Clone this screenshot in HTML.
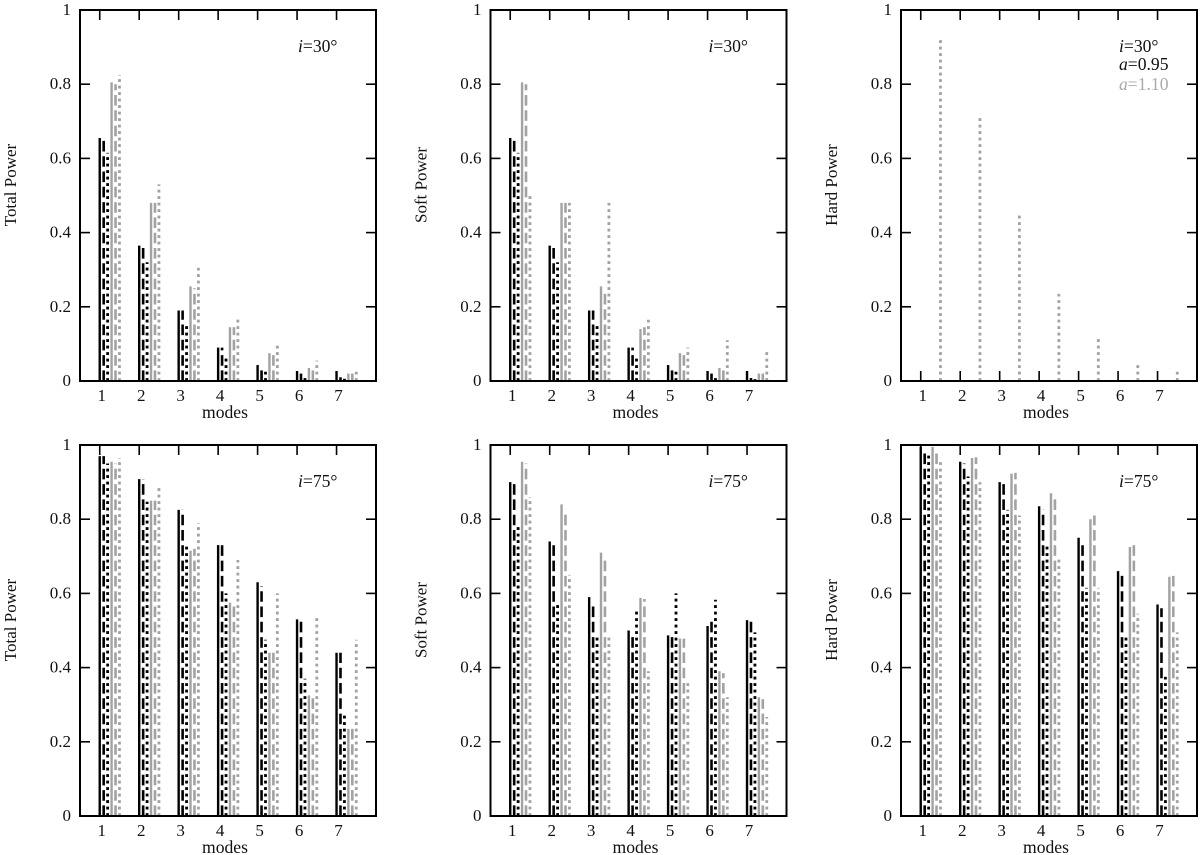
<!DOCTYPE html>
<html>
<head>
<meta charset="utf-8">
<style>
html,body{margin:0;padding:0;background:#fff}
svg{display:block}
text{font-family:"Liberation Serif",serif;font-size:17px;fill:#111}
</style>
</head>
<body>
<svg id="chart" xmlns="http://www.w3.org/2000/svg" width="1200" height="855" viewBox="0 0 1200 855"></svg>
<script>
const modes = [1, 2, 3, 4, 5, 6, 7];
const yTicks = [0, 0.2, 0.4, 0.6, 0.8, 1];
const yTickLabels = ['0', '0.2', '0.4', '0.6', '0.8', '1'];

const total30 = {
  a095Solid: [0.655, 0.365, 0.19, 0.09, 0.043, 0.027, 0.027],
  a095Dashed: [0.655, 0.365, 0.19, 0.09, 0.03, 0.02, 0.01],
  a095Dotted: [0.615, 0.32, 0.15, 0.065, 0.025, 0.013, 0.006],
  a110Solid: [0.805, 0.48, 0.255, 0.145, 0.075, 0.035, 0.02],
  a110Dashed: [0.8, 0.48, 0.25, 0.145, 0.07, 0.03, 0.02],
  a110Dotted: [0.825, 0.53, 0.305, 0.175, 0.095, 0.055, 0.025]
};
const soft30 = {
  a095Solid: [0.655, 0.365, 0.19, 0.09, 0.043, 0.027, 0.027],
  a095Dashed: [0.655, 0.36, 0.19, 0.09, 0.035, 0.02, 0.008],
  a095Dotted: [0.615, 0.32, 0.155, 0.065, 0.025, 0.012, 0.005],
  a110Solid: [0.805, 0.48, 0.255, 0.14, 0.075, 0.035, 0.02],
  a110Dashed: [0.8, 0.48, 0.245, 0.145, 0.07, 0.03, 0.02],
  a110Dotted: [0.5, 0.48, 0.48, 0.165, 0.09, 0.11, 0.08]
};
const hard30 = {
  a095Solid: [0, 0, 0, 0, 0, 0, 0],
  a095Dashed: [0, 0, 0, 0, 0, 0, 0],
  a095Dotted: [0, 0, 0, 0, 0, 0, 0],
  a110Solid: [0, 0, 0, 0, 0, 0, 0],
  a110Dashed: [0, 0, 0, 0, 0, 0, 0],
  a110Dotted: [0.92, 0.71, 0.455, 0.235, 0.115, 0.045, 0.025]
};
const total75 = {
  a095Solid: [0.97, 0.908, 0.825, 0.73, 0.63, 0.53, 0.44],
  a095Dashed: [0.97, 0.908, 0.825, 0.73, 0.62, 0.53, 0.44],
  a095Dotted: [0.95, 0.847, 0.735, 0.6, 0.475, 0.37, 0.28],
  a110Solid: [0.955, 0.85, 0.715, 0.575, 0.44, 0.325, 0.235],
  a110Dashed: [0.95, 0.85, 0.72, 0.575, 0.44, 0.325, 0.235],
  a110Dotted: [0.965, 0.892, 0.79, 0.69, 0.6, 0.535, 0.475]
};
const soft75 = {
  a095Solid: [0.9, 0.74, 0.59, 0.5, 0.487, 0.512, 0.528],
  a095Dashed: [0.895, 0.735, 0.575, 0.487, 0.49, 0.525, 0.53],
  a095Dotted: [0.785, 0.575, 0.49, 0.558, 0.6, 0.583, 0.495],
  a110Solid: [0.955, 0.84, 0.71, 0.588, 0.478, 0.39, 0.32],
  a110Dashed: [0.95, 0.825, 0.7, 0.585, 0.478, 0.385, 0.315],
  a110Dotted: [0.86, 0.65, 0.49, 0.39, 0.358, 0.32, 0.267]
};
const hard75 = {
  a095Solid: [0.995, 0.955, 0.9, 0.835, 0.75, 0.66, 0.57],
  a095Dashed: [0.985, 0.95, 0.9, 0.825, 0.74, 0.655, 0.56],
  a095Dotted: [0.975, 0.915, 0.825, 0.73, 0.615, 0.49, 0.375],
  a110Solid: [0.995, 0.965, 0.923, 0.87, 0.8, 0.725, 0.645],
  a110Dashed: [0.99, 0.967, 0.925, 0.865, 0.81, 0.735, 0.655],
  a110Dotted: [0.96, 0.9, 0.81, 0.7, 0.615, 0.545, 0.495]
};

const svg = document.getElementById('chart');
const NS = 'http://www.w3.org/2000/svg';
const BLACK = '#000';
const GRAY = '#a2a2a2';
const xMin = 0.5, xMax = 8, panelW = 296, panelH = 371;

function mk(tag, attrs, parent) {
  const el = document.createElementNS(NS, tag);
  for (const k in attrs) el.setAttribute(k, attrs[k]);
  parent.appendChild(el);
  return el;
}

const styles = [
  { key: 'a095Solid', off: 0.0, color: BLACK, dash: null, w: 2.4 },
  { key: 'a095Dashed', off: 0.1, color: BLACK, dash: '10.6 4.7', w: 2.6 },
  { key: 'a095Dotted', off: 0.2, color: BLACK, dash: '2.9 3.6', w: 2.8 },
  { key: 'a110Solid', off: 0.3, color: GRAY, dash: null, w: 2.4 },
  { key: 'a110Dashed', off: 0.4, color: GRAY, dash: '10.6 4.7', w: 2.6 },
  { key: 'a110Dotted', off: 0.5, color: GRAY, dash: '2.9 3.6', w: 2.8 }
];

function drawPanel(left, top, series, yTitle, note, isLegend) {
  const g = mk('g', {}, svg);
  
  
  const bottom = top + panelH, right = left + panelW;
  const sx = v => left + (v - xMin) / (xMax - xMin) * panelW;
  const sy = v => bottom - v * panelH;

  styles.forEach(st => {
    const vals = series[st.key];
    modes.forEach((m, i) => {
      if (vals[i] <= 0) return;
      const x = sx(m + st.off);
      const ln = mk('line', { x1: x, x2: x, y1: sy(0), y2: sy(vals[i]), stroke: st.color, 'stroke-width': st.w }, g);
      if (st.dash) ln.setAttribute('stroke-dasharray', st.dash);
      
      
    });
  });

  yTicks.forEach((t, i) => {
    const y = sy(t);
    if (t > 0 && t < 1) {
      const tl = mk('line', { x1: left, x2: left + 10, y1: y, y2: y, stroke: '#000', 'stroke-width': 1.6 }, g);
      
      
      const tr = mk('line', { x1: right, x2: right - 10, y1: y, y2: y, stroke: '#000', 'stroke-width': 1.6 }, g);
      
      
    }
    const lab = mk('text', { x: left - 9, y: y + 5, 'text-anchor': 'end' }, g);
    lab.textContent = yTickLabels[i];
    
    
  });

  modes.forEach(m => {
    const x = sx(m);
    const tb = mk('line', { x1: x, x2: x, y1: bottom, y2: bottom - 10, stroke: '#000', 'stroke-width': 1.6 }, g);
    
    
    const tt = mk('line', { x1: x, x2: x, y1: top, y2: top + 10, stroke: '#000', 'stroke-width': 1.6 }, g);
    
    
    const lab = mk('text', { x: x + 2, y: bottom + 20, 'text-anchor': 'middle' }, g);
    lab.textContent = m;
    
    
  });

  const frame = mk('rect', { x: left, y: top, width: panelW, height: panelH, fill: 'none', stroke: '#000', 'stroke-width': 2 }, g);
  
  

  const xt = mk('text', { x: left + 145, y: bottom + 37, 'text-anchor': 'middle', style: 'font-size:17.6px' }, g);
  xt.textContent = 'modes';
  
  

  const cy = top + 175, cx = left - 64;
  const yt = mk('text', { x: cx, y: cy, 'text-anchor': 'middle', transform: 'rotate(-90 ' + cx + ' ' + cy + ')' }, g);
  yt.textContent = yTitle;
  
  

  const nx = left + 218;
  const n = mk('text', { x: nx, y: top + 42, style: 'font-size:17.6px' }, g);
  const ni = mk('tspan', { 'font-style': 'italic' }, n);
  ni.textContent = 'i';
  const nr = mk('tspan', {}, n);
  nr.textContent = '=' + note + '°';
  
  

  if (isLegend) {
    const l1 = mk('text', { x: nx, y: top + 60, style: 'font-size:17.6px' }, g);
    const l1i = mk('tspan', { 'font-style': 'italic' }, l1);
    l1i.textContent = 'a';
    const l1r = mk('tspan', {}, l1);
    l1r.textContent = '=0.95';
    
    

    const l2 = mk('text', { x: nx, y: top + 80, style: 'fill:#aaaaaa;font-size:17.6px' }, g);
    const l2i = mk('tspan', { 'font-style': 'italic' }, l2);
    l2i.textContent = 'a';
    const l2r = mk('tspan', {}, l2);
    l2r.textContent = '=1.10';
    
    
  }
}

drawPanel(80, 10, total30, 'Total Power', '30', false);
drawPanel(490.5, 10, soft30, 'Soft Power', '30', false);
drawPanel(901, 10, hard30, 'Hard Power', '30', true);
drawPanel(80, 445, total75, 'Total Power', '75', false);
drawPanel(490.5, 445, soft75, 'Soft Power', '75', false);
drawPanel(901, 445, hard75, 'Hard Power', '75', false);
</script>
</body>
</html>
